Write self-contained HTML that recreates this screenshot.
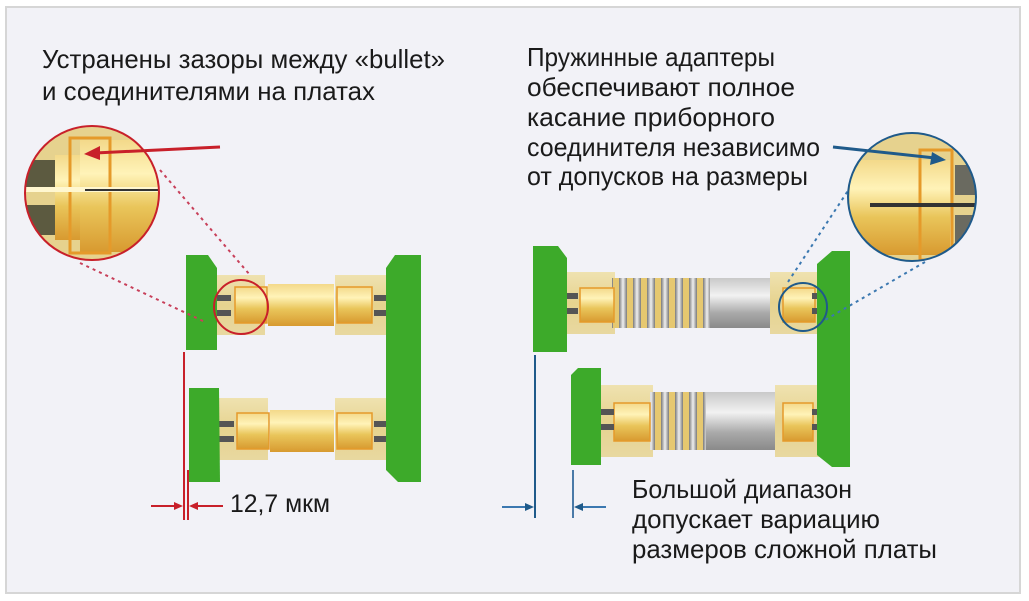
<!DOCTYPE html>
<html><head><meta charset="utf-8"><style>
html,body{margin:0;padding:0;background:#fff}
svg{display:block}
text{font-family:"Liberation Sans","DejaVu Sans",sans-serif;fill:#1a1a1a}
</style></head><body>
<svg width="1029" height="601" viewBox="0 0 1029 601" xmlns="http://www.w3.org/2000/svg">
<defs>
<linearGradient id="gold" x1="0" y1="0" x2="0" y2="1">
<stop offset="0" stop-color="#f3d98a"/><stop offset="0.3" stop-color="#fff3b8"/><stop offset="0.6" stop-color="#e9c55a"/><stop offset="1" stop-color="#d89a30"/></linearGradient>
<linearGradient id="house" x1="0" y1="0" x2="0" y2="1">
<stop offset="0" stop-color="#efe2b0"/><stop offset="0.5" stop-color="#e6d38f"/><stop offset="1" stop-color="#e8d8a0"/></linearGradient>
<linearGradient id="steel" x1="0" y1="0" x2="0" y2="1">
<stop offset="0" stop-color="#c9c9c9"/><stop offset="0.35" stop-color="#f2f2f2"/><stop offset="0.7" stop-color="#a9a9a9"/><stop offset="1" stop-color="#8a8a8a"/></linearGradient>
<linearGradient id="spring" x1="0" y1="0" x2="1" y2="0">
<stop offset="0" stop-color="#7a7a7a"/><stop offset="0.5" stop-color="#f0f0f0"/><stop offset="1" stop-color="#7a7a7a"/></linearGradient>
<pattern id="coil" width="14" height="80" patternUnits="userSpaceOnUse"><rect width="14" height="80" fill="#e6c870"/><rect x="3" width="8" height="80" fill="url(#spring)"/></pattern>
<clipPath id="cl"><circle cx="92" cy="193" r="67"/></clipPath>
<clipPath id="cr"><circle cx="912" cy="197" r="64"/></clipPath>
</defs>
<rect width="1029" height="601" fill="#fff"/>
<rect x="6" y="7" width="1014" height="586" fill="#f2f2f7" stroke="#d6d6d6" stroke-width="2"/>

<text x="42" y="68" font-size="26" textLength="403" lengthAdjust="spacingAndGlyphs">Устранены зазоры между «bullet»</text>
<text x="42" y="100" font-size="26" textLength="333" lengthAdjust="spacingAndGlyphs">и соединителями на платах</text>

<text x="527" y="66" font-size="26" textLength="248" lengthAdjust="spacingAndGlyphs">Пружинные адаптеры</text>
<text x="527" y="96" font-size="26" textLength="268" lengthAdjust="spacingAndGlyphs">обеспечивают полное</text>
<text x="527" y="126" font-size="26" textLength="248" lengthAdjust="spacingAndGlyphs">касание приборного</text>
<text x="527" y="156" font-size="26" textLength="293" lengthAdjust="spacingAndGlyphs">соединителя независимо</text>
<text x="527" y="185" font-size="26" textLength="281" lengthAdjust="spacingAndGlyphs">от допусков на размеры</text>
<text x="632" y="498" font-size="26" textLength="220" lengthAdjust="spacingAndGlyphs">Большой диапазон</text>
<text x="632" y="528" font-size="26" textLength="248" lengthAdjust="spacingAndGlyphs">допускает вариацию</text>
<text x="632" y="558" font-size="26" textLength="305" lengthAdjust="spacingAndGlyphs">размеров сложной платы</text>
<text x="230" y="512" font-size="25" textLength="100" lengthAdjust="spacingAndGlyphs">12,7 мкм</text>

<g>
<rect x="215" y="275" width="50" height="60" fill="url(#house)"/>
<rect x="335" y="275" width="55" height="60" fill="url(#house)"/>
<rect x="268" y="284" width="66" height="42" fill="url(#gold)"/>
<rect x="235" y="287" width="32" height="36" fill="url(#gold)" stroke="#e59a2a" stroke-width="1.5"/>
<rect x="337" y="287" width="35" height="36" fill="url(#gold)" stroke="#e59a2a" stroke-width="1.5"/>
<rect x="211" y="295" width="20" height="6" fill="#555"/><rect x="211" y="310" width="20" height="6" fill="#555"/>
<rect x="374" y="295" width="16" height="6" fill="#555"/><rect x="374" y="310" width="16" height="6" fill="#555"/>
<rect x="218" y="398" width="50" height="62" fill="url(#house)"/>
<rect x="335" y="398" width="55" height="62" fill="url(#house)"/>
<rect x="270" y="410" width="64" height="42" fill="url(#gold)"/>
<rect x="237" y="413" width="32" height="36" fill="url(#gold)" stroke="#e59a2a" stroke-width="1.5"/>
<rect x="337" y="413" width="35" height="36" fill="url(#gold)" stroke="#e59a2a" stroke-width="1.5"/>
<rect x="214" y="421" width="20" height="6" fill="#555"/><rect x="214" y="436" width="20" height="6" fill="#555"/>
<rect x="374" y="421" width="16" height="6" fill="#555"/><rect x="374" y="436" width="16" height="6" fill="#555"/>
<polygon points="186,255 208,255 217,268 217,350 186,350" fill="#3daa2a"/>
<polygon points="189,388 219,388 220,482 189,482" fill="#3daa2a"/>
<polygon points="395,255 421,255 421,482 398,482 386,470 386,268" fill="#3daa2a"/>
<circle cx="241" cy="307" r="27" fill="none" stroke="#c8202a" stroke-width="2"/>
<line x1="160" y1="170" x2="250" y2="275" stroke="#c8405a" stroke-width="2" stroke-dasharray="3,4"/>
<line x1="80" y1="263" x2="205" y2="322" stroke="#c8405a" stroke-width="2" stroke-dasharray="3,4"/>
<g clip-path="url(#cl)">
<rect x="20" y="120" width="150" height="150" fill="#e6d28e"/>
<rect x="20" y="160" width="35" height="30" fill="#5c5a40"/>
<rect x="20" y="205" width="35" height="30" fill="#5c5a40"/>
<rect x="55" y="155" width="25" height="85" fill="url(#gold)"/>
<rect x="80" y="140" width="90" height="112" fill="url(#gold)"/>
<rect x="70" y="138" width="40" height="115" fill="none" stroke="#e59a2a" stroke-width="3"/>
<rect x="20" y="187" width="150" height="5" fill="#fff7d0"/>
<line x1="85" y1="190" x2="170" y2="190" stroke="#333" stroke-width="2"/>
</g>
<circle cx="92" cy="193" r="67" fill="none" stroke="#c8202a" stroke-width="2"/>
<line x1="220" y1="147" x2="95" y2="153" stroke="#c8202a" stroke-width="3"/>
<polygon points="84,154 100,146 100,160" fill="#c8202a"/>
<line x1="184" y1="352" x2="184" y2="520" stroke="#c8202a" stroke-width="2"/>
<line x1="188" y1="470" x2="188" y2="520" stroke="#c8202a" stroke-width="2"/>
<line x1="151" y1="506" x2="180" y2="506" stroke="#c8202a" stroke-width="2"/>
<polygon points="183,506 174,502 174,510" fill="#c8202a"/>
<line x1="192" y1="506" x2="223" y2="506" stroke="#c8202a" stroke-width="2"/>
<polygon points="189,506 198,502 198,510" fill="#c8202a"/>
</g>

<g>
<rect x="565" y="272" width="50" height="62" fill="url(#house)"/>
<rect x="612" y="278" width="98" height="50" fill="url(#coil)"/>
<rect x="710" y="278" width="70" height="50" fill="url(#steel)"/>
<rect x="770" y="272" width="50" height="62" fill="url(#house)"/>
<rect x="580" y="288" width="34" height="34" fill="url(#gold)" stroke="#e59a2a" stroke-width="1.5"/>
<rect x="783" y="288" width="32" height="34" fill="url(#gold)" stroke="#e59a2a" stroke-width="1.5"/>
<rect x="562" y="293" width="16" height="6" fill="#555"/><rect x="562" y="308" width="16" height="6" fill="#555"/>
<rect x="812" y="293" width="10" height="6" fill="#555"/><rect x="812" y="308" width="10" height="6" fill="#555"/>
<rect x="598" y="385" width="55" height="72" fill="url(#house)"/>
<rect x="650" y="392" width="56" height="58" fill="url(#coil)"/>
<rect x="706" y="392" width="72" height="58" fill="url(#steel)"/>
<rect x="775" y="385" width="45" height="72" fill="url(#house)"/>
<rect x="614" y="403" width="36" height="38" fill="url(#gold)" stroke="#e59a2a" stroke-width="1.5"/>
<rect x="783" y="403" width="30" height="38" fill="url(#gold)" stroke="#e59a2a" stroke-width="1.5"/>
<rect x="598" y="409" width="16" height="6" fill="#555"/><rect x="598" y="424" width="16" height="6" fill="#555"/>
<rect x="812" y="409" width="10" height="6" fill="#555"/><rect x="812" y="424" width="10" height="6" fill="#555"/>
<polygon points="533,246 558,246 567,258 567,352 533,352" fill="#3daa2a"/>
<polygon points="578,368 601,368 601,465 571,465 571,375" fill="#3daa2a"/>
<polygon points="832,251 850,251 850,467 832,467 817,455 817,264" fill="#3daa2a"/>
<circle cx="803" cy="307" r="24" fill="none" stroke="#1f5a8a" stroke-width="2"/>
<line x1="855" y1="180" x2="786" y2="285" stroke="#3b78b0" stroke-width="2" stroke-dasharray="3,4"/>
<line x1="925" y1="262" x2="825" y2="320" stroke="#3b78b0" stroke-width="2" stroke-dasharray="3,4"/>
<g clip-path="url(#cr)">
<rect x="845" y="130" width="135" height="135" fill="#e6d28e"/>
<rect x="850" y="160" width="100" height="95" fill="url(#gold)"/>
<rect x="920" y="150" width="32" height="110" fill="none" stroke="#e59a2a" stroke-width="3"/>
<rect x="955" y="165" width="30" height="30" fill="#6a6a60"/>
<rect x="955" y="215" width="30" height="30" fill="#6a6a60"/>
<rect x="870" y="203" width="110" height="4" fill="#333"/>
</g>
<circle cx="912" cy="197" r="64" fill="none" stroke="#1f5a8a" stroke-width="2"/>
<line x1="833" y1="147" x2="935" y2="158" stroke="#1f5a8a" stroke-width="3"/>
<polygon points="946,160 932,152 930,165" fill="#1f5a8a"/>
<line x1="535" y1="355" x2="535" y2="518" stroke="#1f5a8a" stroke-width="2"/>
<line x1="573" y1="470" x2="573" y2="518" stroke="#4a7aa8" stroke-width="2"/>
<line x1="502" y1="507" x2="530" y2="507" stroke="#3b78b0" stroke-width="2"/>
<polygon points="534,507 525,503 525,511" fill="#1f5a8a"/>
<line x1="578" y1="507" x2="606" y2="507" stroke="#3b78b0" stroke-width="2"/>
<polygon points="574,507 583,503 583,511" fill="#1f5a8a"/>
</g>
</svg>
</body></html>
